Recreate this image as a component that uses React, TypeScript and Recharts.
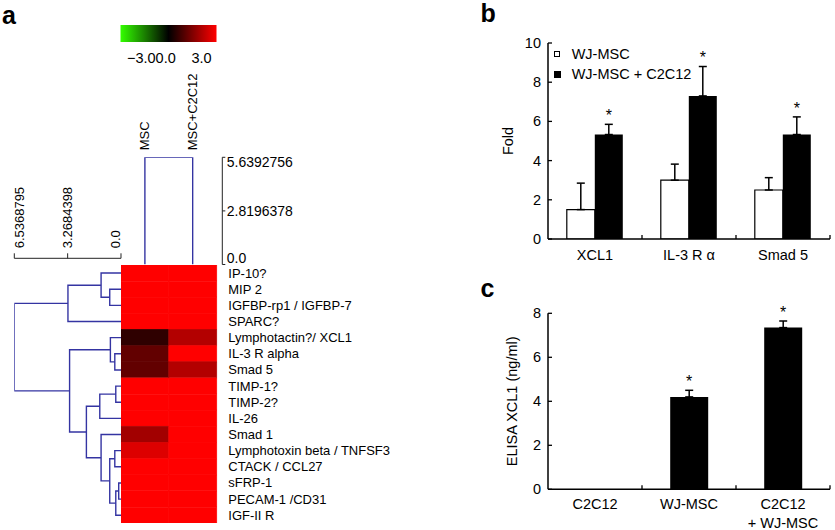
import React from "react";
import {
  Bar,
  BarChart,
  Cell,
  ErrorBar,
  LabelList,
  Legend,
  Scatter,
  ScatterChart,
  XAxis,
  YAxis,
} from "recharts";

const FONT = '"Liberation Sans", Arial, Helvetica, sans-serif';
const TREE_BLUE = "#3434a2";

// ---- panel a: array heat map with both dendrograms
const genes = [
  "IP-10?",
  "MIP 2",
  "IGFBP-rp1 / IGFBP-7",
  "SPARC?",
  "Lymphotactin?/ XCL1",
  "IL-3 R alpha",
  "Smad 5",
  "TIMP-1?",
  "TIMP-2?",
  "IL-26",
  "Smad 1",
  "Lymphotoxin beta / TNFSF3",
  "CTACK / CCL27",
  "sFRP-1",
  "PECAM-1 /CD31",
  "IGF-II R",
];
const samples = ["MSC", "MSC+C2C12"];
const mscLevel = [3, 3, 3, 3, 0.55, 1.15, 1.15, 3, 3, 3, 1.9, 2.6, 3, 3, 3, 3];
const cocultureLevel = [3, 3, 3, 3, 2.1, 3, 2.1, 3, 3, 3, 3, 3, 3, 3, 3, 3];

// [left, right, height]; leaves are 0..n-1, merge k gets id n+k
const geneMerges: [number, number, number][] = [
  [1, 2, 0.69],
  [0, 16, 1.22],
  [17, 3, 3.25],
  [5, 6, 0.38],
  [4, 19, 0.65],
  [7, 8, 0.32],
  [21, 9, 1.3],
  [11, 12, 0.38],
  [13, 14, 0.14],
  [24, 15, 0.32],
  [23, 25, 0.69],
  [10, 26, 1.22],
  [22, 27, 2.12],
  [20, 28, 3.15],
  [18, 29, 6.5368795],
];
const sampleMerges: [number, number, number][] = [[0, 1, 5.6392756]];
const geneTreeTicks = [6.5368795, 3.2684398, 0];
const sampleTreeTicks = [0, 2.8196378, 5.6392756];
const colorScaleStops = [-3, -1.5, 0, 1.5, 3];

// ---- panel b: qPCR fold change
const foldGenes = ["XCL1", "IL-3 R \u03b1", "Smad 5"];
const foldMsc = [1.5, 3.0, 2.5];
const foldMscErr = [1.35, 0.82, 0.63];
const foldCo = [5.33, 7.3, 5.33];
const foldCoErr = [0.52, 1.5, 0.9];
const foldCoStars = [true, true, true];
const foldTicks = [0, 2, 4, 6, 8, 10];

// ---- panel c: ELISA
const elisaGroups = ["C2C12", "WJ-MSC", "C2C12\n+ WJ-MSC"];
const elisaXcl1 = [0, 4.2, 7.35];
const elisaErr = [0, 0.3, 0.3];
const elisaStars = [false, true, true];
const elisaTicks = [0, 2, 4, 6, 8];

const heatColor = (v: number) => {
  const t = Math.max(-1, Math.min(1, v / 3));
  return t >= 0
    ? `rgb(${Math.round(255 * t)},0,0)`
    : `rgb(${Math.round(-51 * t)},${Math.round(-255 * t)},0)`;
};

function dendrogramLinks(leafCount: number, merges: [number, number, number][]) {
  const pos: number[] = [];
  const hgt: number[] = [];
  for (let i = 0; i < leafCount; i++) {
    pos.push(i + 0.5);
    hgt.push(0);
  }
  return merges.map(([a, b, h]) => {
    pos.push((pos[a] + pos[b]) / 2);
    hgt.push(h);
    return [
      { h: hgt[a], p: pos[a] },
      { h, p: pos[a] },
      { h, p: pos[b] },
      { h: hgt[b], p: pos[b] },
    ];
  });
}

const geneLinks = dendrogramLinks(genes.length, geneMerges);
const sampleLinks = dendrogramLinks(samples.length, sampleMerges);

// "value|error" when the bar carries a significance star
const starTag = (v: number, e: number, show: boolean) => (show ? `${v}|${e}` : "");

const heatRows = genes.map((gene, i) => ({
  gene,
  msc: mscLevel[i],
  co: cocultureLevel[i],
  mscCell: 1,
  coCell: 1,
}));

const foldRows = foldGenes.map((gene, i) => ({
  gene,
  msc: foldMsc[i],
  mscErr: [0, foldMscErr[i]],
  co: foldCo[i],
  coErr: [0, foldCoErr[i]],
  star: starTag(foldCo[i], foldCoErr[i], foldCoStars[i]),
}));

const elisaRows = elisaGroups.map((group, i) => ({
  group,
  xcl1: elisaXcl1[i],
  err: [0, elisaErr[i]],
  star: starTag(elisaXcl1[i], elisaErr[i], elisaStars[i]),
}));

const fmtTree = (v: number) => (v === 0 ? "0.0" : String(v));
const noDot = () => <g />;

const GeneTreeTick = (props: any) => {
  const { x, y, payload } = props;
  const v = payload.value;
  const sx = x + (v === 0 ? -5 : v === geneTreeTicks[0] ? 5 : 0);
  return (
    <text
      x={sx}
      y={y}
      transform={`rotate(-90 ${sx} ${y})`}
      textAnchor="start"
      dominantBaseline="central"
      fontSize={13}
      fill="#000"
    >
      {fmtTree(v)}
    </text>
  );
};

const SampleTreeTick = (props: any) => {
  const { x, y, payload } = props;
  const v = payload.value;
  const dy = v === 0 ? -6 : v === sampleTreeTicks[sampleTreeTicks.length - 1] ? 5 : 0;
  return (
    <text x={x} y={y + dy} textAnchor="start" dominantBaseline="central" fontSize={14} fill="#000">
      {fmtTree(v)}
    </text>
  );
};

const SampleTick = (props: any) => {
  const { x, y, payload } = props;
  const name = samples[Math.floor(payload.value)];
  return (
    <text
      x={x}
      y={y}
      transform={`rotate(-90 ${x} ${y})`}
      textAnchor="start"
      dominantBaseline="central"
      fontSize={13}
      fill="#000"
    >
      {name}
    </text>
  );
};

const GeneLabel = (props: any) => {
  const { x, y, payload } = props;
  return (
    <text x={x + 11.7} y={y} dominantBaseline="central" fontSize={13} fill="#000">
      {payload.value}
    </text>
  );
};

const ValueTick = (props: any) => {
  const { x, y, payload } = props;
  return (
    <g>
      <line x1={x} x2={x + 4} y1={y} y2={y} stroke="#000" strokeWidth={1.3} />
      <text x={x - 7} y={y} textAnchor="end" dominantBaseline="central" fontSize={14.5} fill="#000">
        {payload.value}
      </text>
    </g>
  );
};

const bandTick = (band: number, firstLine: number) => (props: any) => {
  const { x, y, payload } = props;
  const lines = String(payload.value).split("\n");
  return (
    <g>
      <line x1={x + band / 2} x2={x + band / 2} y1={y} y2={y - 4} stroke="#000" strokeWidth={1.3} />
      {lines.map((t, i) => (
        <text
          key={i}
          x={x}
          y={y + firstLine + i * 19}
          textAnchor="middle"
          dominantBaseline="central"
          fontSize={14.5}
          fill="#000"
        >
          {t}
        </text>
      ))}
    </g>
  );
};

const axisTitle = (text: string, dx: number) => ({
  content: (p: any) => {
    const vb = p.viewBox || {};
    const cx = vb.x + dx;
    const cy = vb.y + vb.height / 2;
    return (
      <text
        x={cx}
        y={cy}
        transform={`rotate(-90 ${cx} ${cy})`}
        textAnchor="middle"
        dominantBaseline="central"
        fontSize={14.5}
        fill="#000"
      >
        {text}
      </text>
    );
  },
});

const StarLabel = (p: any) => {
  if (!p.value) return null;
  const [v, e] = String(p.value).split("|").map(Number);
  if (!v) return null;
  const vb = p.viewBox || {};
  const x = p.x ?? vb.x;
  const y = p.y ?? vb.y;
  const width = p.width ?? vb.width;
  const height = p.height ?? vb.height;
  const top = y - (e * height) / v;
  return (
    <text x={x + width / 2} y={top - 3.2} textAnchor="middle" fontSize={16} fill="#000">
      *
    </text>
  );
};

const FoldLegend = (p: any) => (
  <div style={{ fontSize: 14.5, lineHeight: "20px", color: "#000", whiteSpace: "nowrap" }}>
    {(p.payload || []).map((e: any, i: number) => {
      const white = e.color === "#fff";
      return (
        <div key={i} style={{ display: "flex", alignItems: "center", height: 20 }}>
          <span
            style={{
              display: "inline-block",
              boxSizing: "border-box",
              width: white ? 6 : 7,
              height: white ? 6 : 7,
              background: e.color,
              border: "1px solid #000",
              marginRight: white ? 11.7 : 10.7,
            }}
          />
          {e.value}
        </div>
      );
    })}
  </div>
);

const abs = (left: number, top: number): React.CSSProperties => ({ position: "absolute", left, top });

export default function App() {
  return (
    <div
      style={{
        position: "absolute",
        left: 0,
        top: 0,
        width: 835,
        height: 530,
        background: "#fff",
        fontFamily: FONT,
        overflow: "hidden",
      }}
    >
      <svg width={835} height={530} style={abs(0, 0)}>
        <defs>
          <linearGradient id="heatScale" x1="0" x2="1" y1="0" y2="0">
            {colorScaleStops.map((v) => (
              <stop key={v} offset={(v + 3) / 6} stopColor={heatColor(v)} />
            ))}
          </linearGradient>
        </defs>
        <text x={2} y={23.5} fontSize={25} fontWeight="bold" fill="#000">a</text>
        <text x={480.5} y={21.5} fontSize={25} fontWeight="bold" fill="#000">b</text>
        <text x={480.5} y={296.5} fontSize={25} fontWeight="bold" fill="#000">c</text>
        <rect x={120.5} y={25} width={96} height={17} fill="url(#heatScale)" />
        <text x={127} y={58} fontSize={14.5} dominantBaseline="central" fill="#000">
          {"\u22123.00.0"}
        </text>
        <text x={191.5} y={58} fontSize={14.5} dominantBaseline="central" fill="#000">
          3.0
        </text>
      </svg>

      {/* gene dendrogram */}
      <div style={abs(0, 150)}>
        <ScatterChart width={135} height={373.3} margin={{ top: 0, right: 14, bottom: 0, left: 14.3 }}>
          <XAxis
            type="number"
            dataKey="h"
            orientation="top"
            reversed
            domain={[0, 6.5368795]}
            allowDataOverflow
            ticks={geneTreeTicks}
            interval={0}
            height={108.3}
            tickSize={5}
            tickMargin={5}
            stroke="#222"
            tick={GeneTreeTick}
          />
          <YAxis type="number" dataKey="p" hide reversed domain={[-0.415, genes.length]} allowDataOverflow />
          {geneLinks.map((pts, i) => (
            <Scatter
              key={i}
              data={pts}
              line={{ stroke: TREE_BLUE, strokeWidth: 1.4 }}
              lineType="joint"
              shape={noDot}
              isAnimationActive={false}
            />
          ))}
        </ScatterChart>
      </div>

      {/* sample dendrogram */}
      <div style={abs(121, 70)}>
        <ScatterChart width={181.3} height={208.5} margin={{ top: 0, right: 0, bottom: 14, left: 0 }}>
          <XAxis
            type="number"
            dataKey="p"
            orientation="top"
            domain={[0, 2.12]}
            allowDataOverflow
            ticks={samples.map((_, i) => i + 0.5)}
            interval={0}
            height={87.3}
            tickSize={0}
            tickMargin={7}
            axisLine={false}
            tickLine={false}
            tick={SampleTick}
          />
          <YAxis
            type="number"
            dataKey="h"
            orientation="right"
            domain={[0, 5.6392756]}
            allowDataOverflow
            ticks={sampleTreeTicks}
            interval={0}
            width={80}
            tickSize={3}
            tickMargin={1.5}
            stroke="#222"
            tick={SampleTreeTick}
          />
          {sampleLinks.map((pts, i) => (
            <Scatter
              key={i}
              data={pts}
              line={{ stroke: TREE_BLUE, strokeWidth: 1.4 }}
              lineType="joint"
              shape={noDot}
              isAnimationActive={false}
            />
          ))}
        </ScatterChart>
      </div>

      {/* heat map cells + gene names */}
      <div style={abs(121, 265)}>
        <BarChart
          layout="vertical"
          width={300}
          height={258.3}
          data={heatRows}
          margin={{ top: 0, right: 0, bottom: 0, left: 0 }}
          barCategoryGap={0}
          barGap={0}
        >
          <XAxis type="number" domain={[0, 2]} hide />
          <YAxis
            type="category"
            dataKey="gene"
            orientation="right"
            width={204.4}
            interval={0}
            tickSize={0}
            tickMargin={0}
            axisLine={false}
            tickLine={false}
            tick={GeneLabel}
          />
          <Bar dataKey="mscCell" stackId="cells" isAnimationActive={false}>
            {heatRows.map((r, i) => (
              <Cell key={i} fill={heatColor(r.msc)} stroke={heatColor(r.msc)} strokeWidth={0.8} />
            ))}
          </Bar>
          <Bar dataKey="coCell" stackId="cells" isAnimationActive={false}>
            {heatRows.map((r, i) => (
              <Cell key={i} fill={heatColor(r.co)} stroke={heatColor(r.co)} strokeWidth={0.8} />
            ))}
          </Bar>
        </BarChart>
      </div>

      {/* panel b */}
      <div style={abs(480, 0)}>
        <BarChart
          width={355}
          height={270}
          data={foldRows}
          margin={{ top: 43, right: 5, bottom: 1, left: 0 }}
          barCategoryGap="20%"
          barGap={0}
        >
          <XAxis
            dataKey="gene"
            height={30}
            interval={0}
            tickSize={0}
            tickMargin={0}
            tickLine={false}
            stroke="#000"
            strokeWidth={1.5}
            tick={bandTick(282 / foldGenes.length, 16)}
          />
          <YAxis
            type="number"
            domain={[0, 10]}
            allowDataOverflow
            ticks={foldTicks}
            interval={0}
            width={68}
            tickSize={0}
            tickMargin={0}
            tickLine={false}
            stroke="#000"
            strokeWidth={1.5}
            tick={ValueTick}
            label={axisTitle("Fold", 27.5)}
          />
          <Legend
            layout="vertical"
            align="center"
            verticalAlign="middle"
            wrapperStyle={{ left: 74, top: 44, width: "auto" }}
            content={FoldLegend}
          />
          <Bar dataKey="msc" name="WJ-MSC" fill="#fff" stroke="#000" strokeWidth={1.2} isAnimationActive={false}>
            <ErrorBar dataKey="mscErr" direction="y" width={4} stroke="#000" strokeWidth={1.5} />
          </Bar>
          <Bar dataKey="co" name="WJ-MSC + C2C12" fill="#000" isAnimationActive={false}>
            <ErrorBar dataKey="coErr" direction="y" width={4} stroke="#000" strokeWidth={1.5} />
            <LabelList dataKey="star" content={StarLabel} />
          </Bar>
        </BarChart>
      </div>

      {/* panel c */}
      <div style={abs(480, 270)}>
        <BarChart
          width={355}
          height={260}
          data={elisaRows}
          margin={{ top: 43.3, right: 5, bottom: 0.7, left: 0 }}
          barCategoryGap="30%"
        >
          <XAxis
            dataKey="group"
            height={40}
            interval={0}
            tickSize={0}
            tickMargin={0}
            tickLine={false}
            stroke="#000"
            strokeWidth={1.5}
            tick={bandTick(282 / elisaGroups.length, 14.5)}
          />
          <YAxis
            type="number"
            domain={[0, 8]}
            allowDataOverflow
            ticks={elisaTicks}
            interval={0}
            width={68}
            tickSize={0}
            tickMargin={0}
            tickLine={false}
            stroke="#000"
            strokeWidth={1.5}
            tick={ValueTick}
            label={axisTitle("ELISA XCL1 (ng/ml)", 32.5)}
          />
          <Bar dataKey="xcl1" fill="#000" isAnimationActive={false}>
            <ErrorBar dataKey="err" direction="y" width={4} stroke="#000" strokeWidth={1.5} />
            <LabelList dataKey="star" content={StarLabel} />
          </Bar>
        </BarChart>
      </div>
    </div>
  );
}
